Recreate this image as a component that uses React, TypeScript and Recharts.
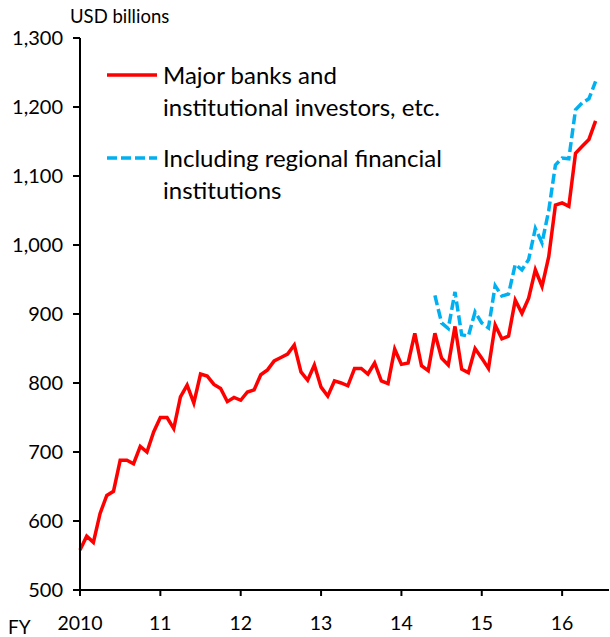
import React from 'react';
import { LineChart, Line, XAxis, YAxis, Legend, Label } from 'recharts';

const FONT = "Lato, 'Open Sans', sans-serif";

// Fiscal-year tick labels and the month index (from April 2010) at which each starts
const fiscalYearLabels = ['2010', '11', '12', '13', '14', '15', '16'];
const yearStartMonths = [0, 12, 24, 36, 48, 60, 72];

// USD billions, monthly from April 2010
const majorBanks = [
  558, 578, 569, 611, 637, 643, 688, 688, 683, 708, 700, 729,
  750, 750, 734, 780, 797, 771, 813, 810, 798, 792, 773, 779,
  775, 787, 790, 812, 819, 832, 837, 842, 855, 816, 804, 826,
  794, 781, 803, 800, 796, 821, 821, 813, 829, 803, 799, 849,
  827, 829, 872, 825, 818, 872, 836, 826, 882, 820, 815, 850,
  836, 821, 884, 864, 868, 920, 901, 923, 964, 940, 983, 1058,
  1061, 1056, 1133, 1143, 1153, 1180,
];

const regionalStartMonth = 53;
const inclRegional = [
  927, 887, 879, 932, 870, 868, 903, 887, 880, 941, 926, 929,
  972, 964, 979, 1024, 1003, 1050, 1116, 1126, 1125, 1196, 1206, 1212,
  1237,
];

const yTicks = [500, 600, 700, 800, 900, 1000, 1100, 1200, 1300];

const seriesKeys = ['major', 'incl'];
const seriesColors = ['#FF0000', '#00B0F0'];
const seriesDash = [undefined, '10 4'];
const legendLines = [
  ['Major banks and', 'institutional investors, etc.'],
  ['Including regional financial', 'institutions'],
];

const data = majorBanks.map((v, i) => ({
  m: i,
  major: v,
  incl: i >= regionalStartMonth ? inclRegional[i - regionalStartMonth] : null,
}));

const xTickFormat = (v: number) => {
  const idx = yearStartMonths.indexOf(v);
  return idx >= 0 ? fiscalYearLabels[idx] : '';
};

const yTickFormat = (v: number) => v.toLocaleString('en-US');

const UnitLabel = (props: any) => {
  const vb = props.viewBox;
  return (
    <text x={vb.x + vb.width - 10} y={vb.y - 15} fontSize={18.5} fontFamily={FONT} fill="#000">
      USD billions
    </text>
  );
};

const FYLabel = (props: any) => {
  const vb = props.viewBox;
  return (
    <text x={vb.x - 72} y={vb.y + 44} fontSize={19} fontFamily={FONT} fill="#000">
      FY
    </text>
  );
};

const renderLegend = () => (
  <div style={{ fontFamily: FONT, fontSize: 24, color: '#000', lineHeight: '32px' }}>
    {legendLines.map((lines, i) => (
      <div key={i} style={{ display: 'flex', alignItems: 'flex-start', marginBottom: i === 0 ? 19 : 0 }}>
        <svg width={58} height={32} style={{ flex: 'none' }}>
          <line
            x1={2}
            x2={52}
            y1={16}
            y2={16}
            stroke={seriesColors[i]}
            strokeWidth={3.5}
            strokeDasharray={seriesDash[i]}
          />
        </svg>
        <div>
          {lines.map((t, j) => (
            <div key={j} style={{ whiteSpace: 'nowrap' }}>{t}</div>
          ))}
        </div>
      </div>
    ))}
  </div>
);

export default function App() {
  return (
    <div style={{ position: 'absolute', left: 0, top: 0, background: '#fff' }}>
      <LineChart width={610} height={637} data={data} margin={{ top: 38, right: 1, bottom: 0, left: 0 }}>
        <XAxis
          dataKey="m"
          type="number"
          domain={[0, 79]}
          ticks={yearStartMonths}
          tickFormatter={xTickFormat}
          interval={0}
          height={47}
          axisLine={{ stroke: '#000', strokeWidth: 2 }}
          tickLine={{ stroke: '#000', strokeWidth: 2 }}
          tickSize={6}
          tickMargin={20}
          tick={{ fill: '#000', fontSize: 19.5, fontFamily: FONT }}
        >
          <Label content={<FYLabel />} />
        </XAxis>
        <XAxis
          xAxisId="top"
          orientation="top"
          dataKey="m"
          type="number"
          domain={[0, 79]}
          height={0}
          tick={false}
          tickLine={false}
          axisLine={{ stroke: '#000', strokeWidth: 2 }}
        />
        <YAxis
          domain={[500, 1300]}
          ticks={yTicks}
          tickFormatter={yTickFormat}
          interval={0}
          width={80}
          axisLine={{ stroke: '#000', strokeWidth: 2 }}
          tickLine={{ stroke: '#000', strokeWidth: 2 }}
          tickSize={7}
          tickMargin={10}
          tick={{ fill: '#000', fontSize: 20, fontFamily: FONT }}
        >
          <Label content={<UnitLabel />} />
        </YAxis>
        <YAxis
          yAxisId="right"
          orientation="right"
          domain={[500, 1300]}
          width={0}
          tick={false}
          tickLine={false}
          axisLine={{ stroke: '#000', strokeWidth: 2 }}
        />
        <Legend
          content={renderLegend}
          layout="vertical"
          align="center"
          verticalAlign="middle"
          wrapperStyle={{ left: 105, top: 59, width: 440 }}
        />
        {seriesKeys.map((k, i) => (
          <Line
            key={k}
            dataKey={k}
            type="linear"
            stroke={seriesColors[i]}
            strokeWidth={3.5}
            strokeDasharray={seriesDash[i]}
            dot={false}
            activeDot={false}
            isAnimationActive={false}
            connectNulls={false}
          />
        ))}
      </LineChart>
    </div>
  );
}
